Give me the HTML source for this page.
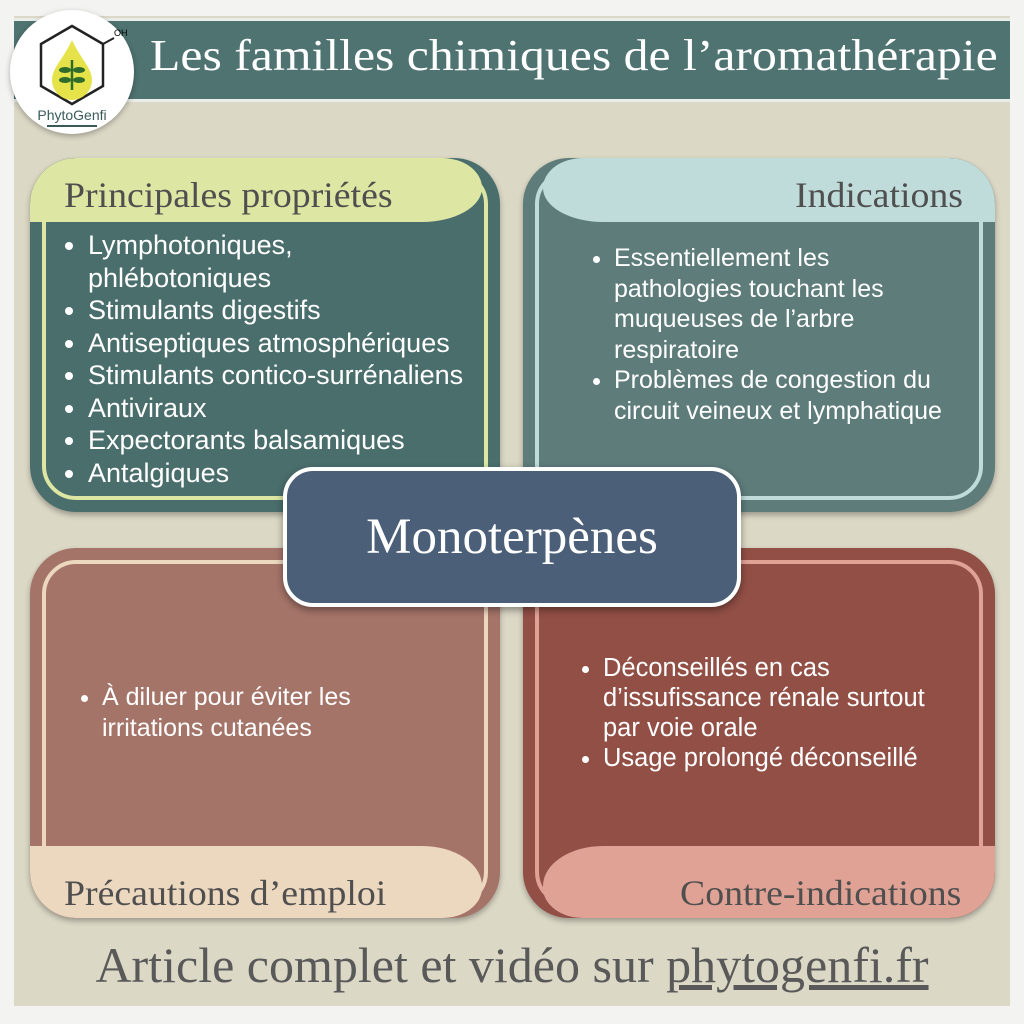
<!DOCTYPE html>
<html><head><meta charset="utf-8"><style>
body{margin:0;width:1024px;height:1024px;background:#f3f3f1;position:relative;overflow:hidden;font-family:"Liberation Sans",sans-serif}
.paper{position:absolute;left:14px;top:16px;width:996px;height:990px;background:#dcd8c6}
.band{position:absolute;left:14px;top:18px;width:996px;height:78px;background:#4e7370;border-top:3px solid #e9ece8;border-bottom:3px solid #e9ece8}
.title{position:absolute;left:150px;top:30px;font-family:"Liberation Serif",serif;font-size:44px;color:#fff;white-space:nowrap;transform-origin:0 0;transform:scaleX(1.13)}
.logo{position:absolute;left:10px;top:10px;width:124px;height:124px;border-radius:50%;background:#fff;box-shadow:0 2px 6px rgba(0,0,0,.3)}
.q{position:absolute;border-radius:46px;overflow:hidden;box-shadow:0 3px 6px rgba(0,0,0,.3)}
.inner{position:absolute;border:4px solid;border-radius:34px}
.hd{position:absolute;font-family:"Liberation Serif",serif;font-size:36px;color:#4f4f4f;white-space:nowrap;transform-origin:0 0;transform:scaleX(1.05)}
ul{position:absolute;margin:0;padding:0 0 0 24px;color:#fff;font-size:26px;line-height:32.5px;white-space:nowrap}
li{padding-left:0}
.center{position:absolute;left:283px;top:467px;width:450px;height:132px;background:#4b5f78;border:4px solid #fff;border-radius:30px;box-shadow:0 3px 8px rgba(0,0,0,.4);color:#fff;font-family:"Liberation Serif",serif;font-size:51px;text-align:center;line-height:132px}
.foot{position:absolute;left:0;width:1024px;top:936px;text-align:center;font-family:"Liberation Serif",serif;font-size:50px;color:#595959}
</style></head><body>
<div class="paper"></div>
<div class="band"></div>
<div class="title">Les familles chimiques de l’aromathérapie</div>
<div class="logo">
<svg width="124" height="124" viewBox="0 0 124 124">
<polygon points="62,16 93,34 93,76 62,94 31,76 31,34" fill="none" stroke="#222" stroke-width="2.5"/>
<line x1="93" y1="34" x2="104" y2="28" stroke="#222" stroke-width="2"/>
<text x="104" y="26" font-size="9" font-family="Liberation Sans">OH</text>
<path d="M62,30 C70,48 82,58 82,70 A20,20 0 0 1 42,70 C42,58 54,48 62,30Z" fill="#e6e34a"/>
<line x1="62" y1="50" x2="62" y2="80" stroke="#2f6b2a" stroke-width="2.5"/>
<ellipse cx="55" cy="60" rx="6" ry="3" fill="#2f6b2a"/><ellipse cx="69" cy="60" rx="6" ry="3" fill="#2f6b2a"/>
<ellipse cx="55" cy="70" rx="6" ry="3" fill="#2f6b2a"/><ellipse cx="69" cy="70" rx="6" ry="3" fill="#2f6b2a"/>
<text x="62" y="110" font-size="14" text-anchor="middle" fill="#3a5a5a" font-family="Liberation Sans">PhytoGenfi</text>
<line x1="37" y1="116" x2="87" y2="116" stroke="#3a5a5a" stroke-width="2"/>
</svg></div>

<div class="q" style="left:30px;top:158px;width:470px;height:354px;background:#4a6e6c">
<div class="inner" style="left:12px;top:12px;right:12px;bottom:12px;border-color:#dde6a2"></div>
<div style="position:absolute;left:0;top:0;width:452px;height:64px;background:#dde6a2;border-radius:46px 40px 60px 0/46px 30px 34px 0"></div>
</div>
<div class="hd" style="left:64px;top:174px">Principales propriétés</div>
<ul style="left:64px;top:229px;font-size:27px">
<li>Lymphotoniques,<br>phlébotoniques</li><li>Stimulants digestifs</li><li>Antiseptiques atmosphériques</li><li>Stimulants contico-surrénaliens</li><li>Antiviraux</li><li>Expectorants balsamiques</li><li>Antalgiques</li></ul>

<div class="q" style="left:523px;top:158px;width:472px;height:354px;background:#5d7c7a">
<div class="inner" style="left:12px;top:12px;right:12px;bottom:12px;border-color:#bfdcda"></div>
<div style="position:absolute;right:0;top:0;width:452px;height:64px;background:#bfdcda;border-radius:40px 46px 0 60px/30px 46px 0 34px"></div>
</div>
<div class="hd" style="left:795px;top:174px">Indications</div>
<ul style="left:590px;top:243px;font-size:25px;line-height:30.5px">
<li>Essentiellement les<br>pathologies touchant les<br>muqueuses de l’arbre<br>respiratoire</li><li>Problèmes de congestion du<br>circuit veineux et lymphatique</li></ul>

<div class="q" style="left:30px;top:548px;width:470px;height:370px;background:#a57469">
<div class="inner" style="left:12px;top:12px;right:12px;bottom:12px;border-color:#ecd7bf"></div>
<div style="position:absolute;left:0;bottom:0;width:452px;height:72px;background:#ecd7bf;border-radius:0 60px 40px 46px/0 40px 30px 46px"></div>
</div>
<div class="hd" style="left:64px;top:872px">Précautions d’emploi</div>
<ul style="left:78px;top:682px;font-size:25px;line-height:31px">
<li>À diluer pour éviter les<br>irritations cutanées</li></ul>

<div class="q" style="left:523px;top:548px;width:472px;height:370px;background:#914f45">
<div class="inner" style="left:12px;top:12px;right:12px;bottom:12px;border-color:#dfa295"></div>
<div style="position:absolute;right:0;bottom:0;width:452px;height:72px;background:#dfa295;border-radius:60px 0 46px 40px/40px 0 46px 30px"></div>
</div>
<div class="hd" style="left:680px;top:872px">Contre-indications</div>
<ul style="left:579px;top:653px;font-size:25.5px;line-height:30px">
<li>Déconseillés en cas<br>d’issufissance rénale surtout<br>par voie orale</li><li>Usage prolongé déconseillé</li></ul>

<div class="center">Monoterpènes</div>
<div class="foot">Article complet et vidéo sur <u>phytogenfi.fr</u></div>
</body></html>
